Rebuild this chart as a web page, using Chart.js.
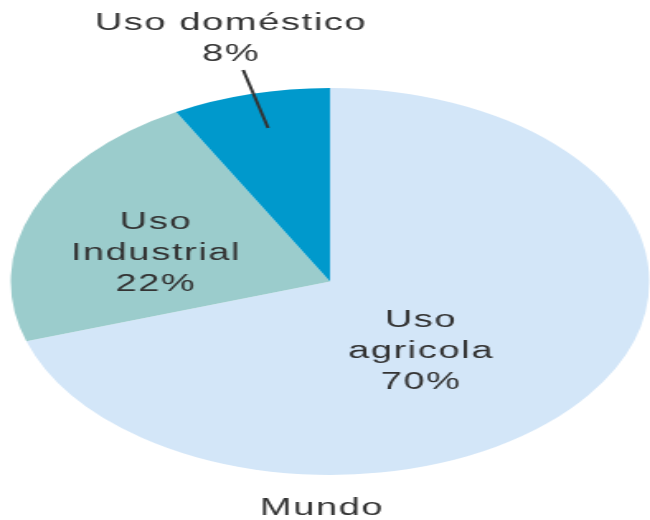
<!DOCTYPE html>
<html>
<head>
<meta charset="utf-8">
<script src="https://cdn.jsdelivr.net/npm/chart.js@4"></script>
<style>
  html, body { margin: 0; padding: 0; background: #fff; overflow: hidden; }
  /* the original pie is an ellipse: draw a round pie and stretch it sideways */
  #wrap { position: absolute; left: 0; top: 0; width: 400px; height: 520px; transform: scaleX(1.65); transform-origin: 0 0; }
</style>
</head>
<body>
<div id="wrap"><canvas id="chart"></canvas></div>
<script>
const categories = ["Uso agricola", "Uso Industrial", "Uso doméstico"];
const labelLines = [["Uso", "agricola"], ["Uso", "Industrial"], ["Uso doméstico"]];
const shares = [70, 22, 8];
const colors = ["#d3e6f8", "#9bcccc", "#0099cc"];
const footer = "Mundo";

// first baseline of each label block, relative to the pie centre, in radii
const labelAnchors = [
  { dx: 0.285, dy: 0.235 },
  { dx: -0.545, dy: -0.271 },
  { dx: -0.31, dy: -1.30 }
];
const LINE_H = 31;

const labelsPlugin = {
  id: "pieLabels",
  afterDatasetsDraw(chart) {
    const meta = chart.getDatasetMeta(0);
    const first = meta.data[0];
    const cx = first.x, cy = first.y, r = first.outerRadius;
    const ctx = chart.ctx;

    ctx.save();
    ctx.fillStyle = "#333";
    ctx.font = "23px 'Liberation Sans', Arial, sans-serif";
    ctx.textAlign = "center";
    ctx.textBaseline = "alphabetic";
    if ("letterSpacing" in ctx) ctx.letterSpacing = "1px";

    labelLines.forEach((lines, i) => {
      const a = labelAnchors[i];
      const x = cx + a.dx * r;
      let y = cy + a.dy * r;
      lines.concat([shares[i] + "%"]).forEach(line => {
        ctx.fillText(line, x, y);
        y += LINE_H;
      });
    });

    ctx.fillText(footer, cx - 0.025 * r, cy + 1.207 * r);

    // leader line for the small slice
    ctx.strokeStyle = "#333";
    ctx.lineWidth = 2;
    ctx.beginPath();
    ctx.moveTo(cx - 0.272 * r, cy - 1.093 * r);
    ctx.lineTo(cx - 0.194 * r, cy - 0.793 * r);
    ctx.stroke();
    ctx.restore();
  }
};

new Chart(document.getElementById("chart"), {
  type: "pie",
  data: {
    labels: categories,
    datasets: [{
      data: shares,
      backgroundColor: colors,
      borderWidth: 0
    }]
  },
  options: {
    responsive: true,
    maintainAspectRatio: false,
    animation: false,
    events: [],
    layout: {
      padding: { top: 88, bottom: 45, left: 0, right: 0 }
    },
    plugins: {
      legend: { display: false },
      tooltip: { enabled: false }
    }
  },
  plugins: [labelsPlugin]
});
</script>
</body>
</html>
